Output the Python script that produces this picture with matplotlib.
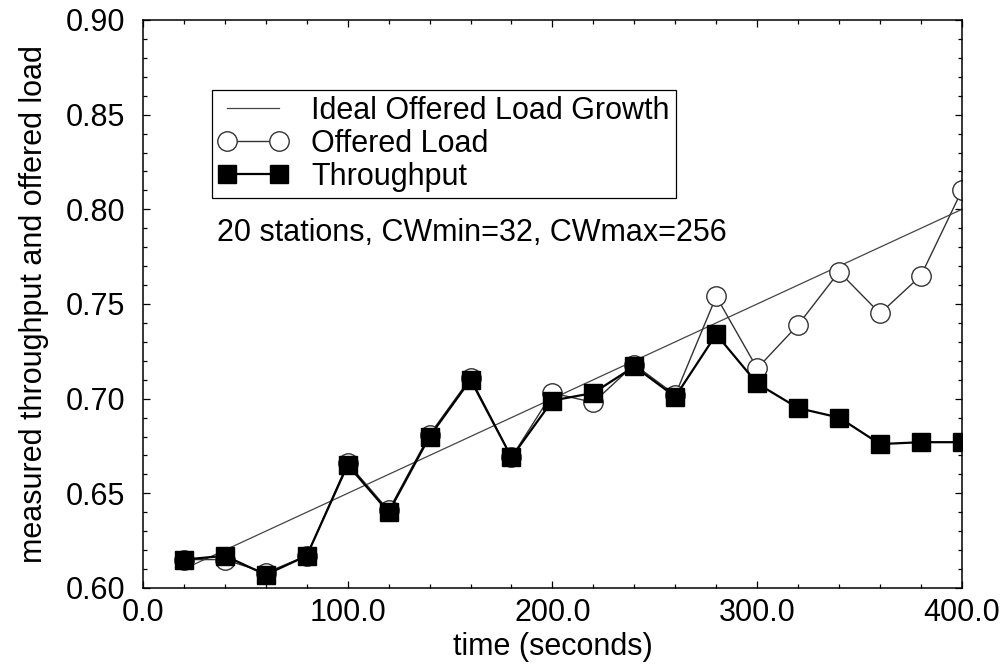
import matplotlib
matplotlib.use("Agg")
import matplotlib.pyplot as plt
from matplotlib.ticker import MultipleLocator, FormatStrFormatter

plt.rcParams['font.family'] = ['Liberation Sans', 'DejaVu Sans']

# time axis (seconds)
t = [20, 40, 60, 80, 100, 120, 140, 160, 180, 200,
     220, 240, 260, 280, 300, 320, 340, 360, 380, 400]

offered = [0.615, 0.615, 0.608, 0.617, 0.666, 0.641, 0.681, 0.711, 0.669, 0.703,
           0.698, 0.718, 0.702, 0.754, 0.716, 0.739, 0.767, 0.745, 0.765, 0.810]

throughput = [0.615, 0.617, 0.607, 0.617, 0.665, 0.640, 0.680, 0.710, 0.669, 0.699,
              0.703, 0.717, 0.701, 0.734, 0.708, 0.695, 0.690, 0.676, 0.677, 0.677]

# ideal growth: straight line between end points
ideal_t = [20, 400]
ideal_y = [0.610, 0.800]

fig = plt.figure(figsize=(10.06, 6.64), dpi=100)
ax = fig.add_axes([0.1421, 0.1145, 0.8141, 0.8554])

ax.plot(ideal_t, ideal_y, color='#444444', lw=0.9, label='Ideal Offered Load Growth')
ax.plot(t, offered, color='#333333', lw=1.0, marker='o', ms=14,
        mfc='white', mec='#333333', mew=1.0, label='Offered Load')
ax.plot(t, throughput, color='black', lw=1.6, marker='s', ms=13,
        mfc='black', mec='black', label='Throughput')

ax.set_xlim(0, 400)
ax.set_ylim(0.60, 0.90)
ax.xaxis.set_major_locator(MultipleLocator(100))
ax.xaxis.set_minor_locator(MultipleLocator(20))
ax.yaxis.set_major_locator(MultipleLocator(0.05))
ax.yaxis.set_minor_locator(MultipleLocator(0.01))
ax.xaxis.set_major_formatter(FormatStrFormatter('%.1f'))
ax.yaxis.set_major_formatter(FormatStrFormatter('%.2f'))
ax.tick_params(which='both', direction='in', top=True, right=True, labelsize=22, width=0.9)
ax.tick_params(which='major', length=5)
ax.tick_params(axis='y', which='major', pad=13)
ax.tick_params(axis='x', which='major', pad=7)
ax.tick_params(which='minor', length=3)
for s in ax.spines.values():
    s.set_linewidth(1.1)

ax.set_xlabel('time (seconds)', fontsize=22, labelpad=3)
ax.set_ylabel('measured throughput and offered load', fontsize=22, labelpad=12)

ax.text(36.1, 0.7875, '20 stations, CWmin=32, CWmax=256', fontsize=22, va='center')

leg = ax.legend(loc='upper left', bbox_to_anchor=(0.0842, 0.877), fontsize=22,
                numpoints=2, handlelength=2.3, handletextpad=0.75, labelspacing=0.1,
                borderpad=0.2, borderaxespad=0, fancybox=False, framealpha=1,
                edgecolor='black')
leg.get_frame().set_linewidth(0.9)

fig.savefig('out.png', dpi=100)
